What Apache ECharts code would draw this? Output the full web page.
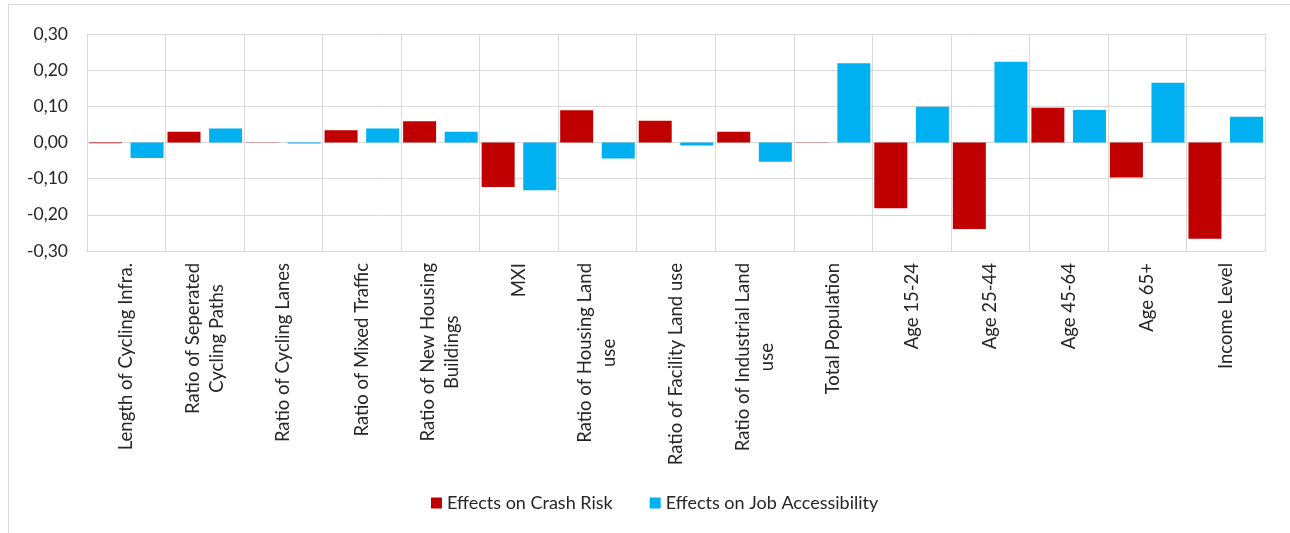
<!DOCTYPE html>
<html>
<head>
<meta charset="utf-8">
<script src="https://cdn.jsdelivr.net/npm/echarts@6/dist/echarts.min.js"></script>
<style>
html,body{margin:0;padding:0;background:#fff;}
#chart{width:1290px;height:533px;}
</style>
</head>
<body>
<div id="chart"></div>
<script>
var categories = [
  'Length of Cycling Infra.',
  'Ratio of Seperated\nCycling Paths',
  'Ratio of Cycling Lanes',
  'Ratio of Mixed Traffic',
  'Ratio of New Housing\nBuildings',
  'MXI',
  'Ratio of Housing Land\nuse',
  'Ratio of Facility Land use',
  'Ratio of Industrial Land\nuse',
  'Total Population',
  'Age 15-24',
  'Age 25-44',
  'Age 45-64',
  'Age 65+',
  'Income Level'
];
var seriesNames = ['Effects on Crash Risk', 'Effects on Job Accessibility'];
var crashRisk = [-0.002, 0.030, 0.001, 0.034, 0.059, -0.123, 0.089, 0.060, 0.030, -0.001, -0.182, -0.239, 0.096, -0.097, -0.266];
var jobAccess = [-0.043, 0.039, -0.003, 0.039, 0.030, -0.132, -0.044, -0.008, -0.053, 0.219, 0.099, 0.223, 0.090, 0.165, 0.071];
var yTicks = { min: -0.3, max: 0.3, interval: 0.1 };

var FONT = 'Lato';
var TXT = '#262626';
var GRID = '#D9D9D9';

var chart = echarts.init(document.getElementById('chart'), null, { renderer: 'canvas' });
chart.setOption({
  animation: false,
  backgroundColor: '#ffffff',
  textStyle: { fontFamily: FONT },
  graphic: [{
    type: 'rect',
    shape: { x: 8.5, y: 4.5, width: 1300, height: 600 },
    style: { fill: 'none', stroke: GRID, lineWidth: 1 },
    silent: true,
    z: -1
  }],
  grid: { left: 87, right: 25, top: 34, bottom: 282, containLabel: false },
  legend: {
    data: seriesNames,
    bottom: 16,
    left: 426,
    itemWidth: 11,
    itemHeight: 11,
    itemGap: 37,
    icon: 'rect',
    textStyle: { fontFamily: FONT, fontSize: 18, color: TXT }
  },
  xAxis: {
    type: 'category',
    data: categories,
    boundaryGap: true,
    axisLine: { show: true, onZero: false, lineStyle: { color: GRID, width: 1 } },
    axisTick: { show: false },
    splitLine: { show: true, lineStyle: { color: GRID, width: 1 } },
    axisLabel: {
      interval: 0,
      rotate: 90,
      margin: 12,
      color: TXT,
      fontFamily: FONT,
      fontSize: 18.5,
      formatter: function (v) {
        return v.split('\n').map(function (s) { return '{c|' + s + '}'; }).join('\n');
      },
      rich: {
        c: { align: 'center', fontFamily: FONT, fontSize: 18.5, lineHeight: 24, color: TXT }
      }
    }
  },
  yAxis: {
    type: 'value',
    min: yTicks.min,
    max: yTicks.max,
    interval: yTicks.interval,
    axisLine: { show: true, lineStyle: { color: GRID } },
    axisTick: { show: false },
    splitLine: { show: true, lineStyle: { color: GRID, width: 1 } },
    axisLabel: {
      margin: 19,
      color: TXT,
      fontFamily: FONT,
      fontSize: 17.5,
      formatter: function (v) {
        if (Math.abs(v) < 1e-9) v = 0;
        return v.toFixed(2).replace('.', ',');
      }
    }
  },
  series: [
    {
      name: seriesNames[0],
      type: 'bar',
      data: crashRisk,
      barWidth: 33,
      barGap: '26%',
      itemStyle: { color: '#C00000' }
    },
    {
      name: seriesNames[1],
      type: 'bar',
      data: jobAccess,
      barWidth: 33,
      barGap: '26%',
      itemStyle: { color: '#00B0F0' }
    }
  ]
});
</script>
</body>
</html>
